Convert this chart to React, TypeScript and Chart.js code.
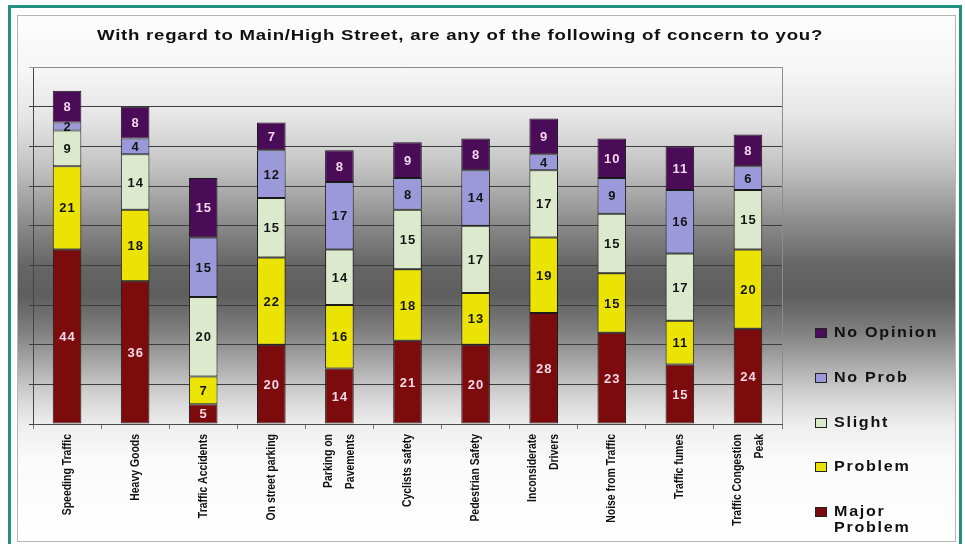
import React, { useEffect, useRef } from 'react';
import { Chart, registerables } from 'chart.js';

Chart.register(...registerables);

const titleText = 'With regard to Main/High Street, are any of the following of concern to you?';

const categories: string[][] = [
  ['Speeding Traffic'],
  ['Heavy Goods'],
  ['Traffic Accidents'],
  ['On street parking'],
  ['Parking on', 'Pavements'],
  ['Cyclists safety'],
  ['Pedestrian Safety'],
  ['Inconsiderate', 'Drivers'],
  ['Noise from Traffic'],
  ['Traffic fumes'],
  ['Traffic Congestion', 'Peak'],
];

const majorProblem = [44, 36, 5, 20, 14, 21, 20, 28, 23, 15, 24];
const problem = [21, 18, 7, 22, 16, 18, 13, 19, 15, 11, 20];
const slight = [9, 14, 20, 15, 14, 15, 17, 17, 15, 17, 15];
const noProb = [2, 4, 15, 12, 17, 8, 14, 4, 9, 16, 6];
const noOpinion = [8, 8, 15, 7, 8, 9, 8, 9, 10, 11, 8];

const seriesNames = ['Major Problem', 'Problem', 'Slight', 'No Prob', 'No Opinion'];
const seriesColors = ['#7c0b0e', '#ebe304', '#dde9cc', '#9b99d9', '#4a0b57'];
const labelColors = ['#f4d8e4', '#151515', '#151515', '#151515', '#f2d6ee'];

const yMax = 90;
const yStep = 10;

const FONT = '"Liberation Sans", Arial, sans-serif';

const bgPlugin = {
  id: 'bgPlugin',
  beforeDraw(chart: any) {
    const { ctx, width, height } = chart;
    ctx.save();
    ctx.fillStyle = '#ffffff';
    ctx.fillRect(0, 0, width, height);
    const g = ctx.createLinearGradient(0, 0, 0, height);
    const stops: [number, string][] = [
      [0, '#ffffff'],
      [70, '#f6f6f6'],
      [120, '#e4e4e4'],
      [170, '#c0c0c0'],
      [220, '#8e8e8e'],
      [265, '#666666'],
      [295, '#5e5e5e'],
      [330, '#7e7e7e'],
      [365, '#ababab'],
      [395, '#d2d2d2'],
      [425, '#eeeeee'],
      [460, '#fafafa'],
      [544, '#ffffff'],
    ];
    stops.forEach(([p, c]) => g.addColorStop(p / height, c));
    ctx.fillStyle = g;
    ctx.fillRect(17, 15, 939, 527);
    ctx.strokeStyle = '#b5b5b5';
    ctx.lineWidth = 1;
    ctx.strokeRect(17.5, 15.5, 938, 526);
    ctx.strokeStyle = '#23907e';
    ctx.lineWidth = 3;
    ctx.beginPath();
    ctx.moveTo(9.5, height);
    ctx.lineTo(9.5, 6.5);
    ctx.lineTo(960.5, 6.5);
    ctx.lineTo(960.5, height);
    ctx.stroke();
    ctx.restore();
  },
  beforeDatasetsDraw(chart: any) {
    const { ctx, chartArea } = chart;
    ctx.save();
    ctx.strokeStyle = '#8c8c8c';
    ctx.lineWidth = 1;
    ctx.beginPath();
    ctx.moveTo(chartArea.left, chartArea.top + 0.5);
    ctx.lineTo(chartArea.right + 0.5, chartArea.top + 0.5);
    ctx.lineTo(chartArea.right + 0.5, chartArea.bottom);
    ctx.stroke();
    ctx.restore();
  },
};

const valuePlugin = {
  id: 'valuePlugin',
  afterDatasetsDraw(chart: any) {
    const { ctx } = chart;
    ctx.save();
    ctx.font = `bold 13px ${FONT}`;
    (ctx as any).letterSpacing = '1px';
    ctx.textAlign = 'center';
    ctx.textBaseline = 'middle';
    chart.data.datasets.forEach((ds: any, i: number) => {
      const meta = chart.getDatasetMeta(i);
      meta.data.forEach((bar: any, j: number) => {
        const v = ds.data[j];
        const { x, y, base } = bar.getProps(['x', 'y', 'base'], true);
        ctx.fillStyle = labelColors[i];
        ctx.fillText(String(v), x + 0.5, (y + base) / 2 + 1);
      });
    });
    ctx.restore();
  },
};

const decorPlugin = {
  id: 'decorPlugin',
  afterDraw(chart: any) {
    const { ctx, chartArea } = chart;
    // title
    ctx.save();
    ctx.font = `bold 15px ${FONT}`;
    (ctx as any).letterSpacing = '0.6px';
    const w = ctx.measureText(titleText).width;
    const sx = 726 / w;
    ctx.translate(460, 36);
    ctx.scale(sx, 1);
    ctx.textAlign = 'center';
    ctx.textBaseline = 'middle';
    ctx.fillStyle = '#111111';
    ctx.fillText(titleText, 0, 0);
    ctx.restore();

    // x labels
    const xs = chart.scales.x;
    ctx.save();
    ctx.font = `bold 12px ${FONT}`;
    ctx.fillStyle = '#111111';
    ctx.textAlign = 'right';
    ctx.textBaseline = 'middle';
    categories.forEach((lines, i) => {
      const x = xs.getPixelForValue(i);
      const n = lines.length;
      lines.forEach((line, k) => {
        const off = (k - (n - 1) / 2) * 22;
        ctx.save();
        ctx.translate(x + off, chartArea.bottom + 10);
        ctx.rotate(-Math.PI / 2);
        ctx.scale(0.87, 1.08);
        ctx.fillText(line, 0, 0);
        ctx.restore();
      });
    });
    ctx.restore();

    // legend
    ctx.save();
    const items = [4, 3, 2, 1, 0];
    const ys = [333, 378, 423, 467, 512];
    ctx.textAlign = 'left';
    ctx.textBaseline = 'middle';
    items.forEach((si, k) => {
      const y = ys[k];
      ctx.fillStyle = seriesColors[si];
      ctx.fillRect(815, y - 5, 12, 10);
      ctx.strokeStyle = '#222222';
      ctx.lineWidth = 1;
      ctx.strokeRect(815.5, y - 4.5, 11, 9);
      ctx.save();
      ctx.font = `bold 14px ${FONT}`;
      (ctx as any).letterSpacing = '1.5px';
      ctx.fillStyle = '#111111';
      ctx.translate(834, y);
      ctx.scale(1.15, 1);
      if (seriesNames[si] === 'Major Problem') {
        ctx.fillText('Major', 0, 0);
        ctx.fillText('Problem', 0, 16);
      } else {
        ctx.fillText(seriesNames[si], 0, 0);
      }
      ctx.restore();
    });
    ctx.restore();
  },
};

export default function App() {
  const ref = useRef<HTMLCanvasElement | null>(null);

  useEffect(() => {
    if (!ref.current) return;
    const seriesData = [majorProblem, problem, slight, noProb, noOpinion];
    const chart = new Chart(ref.current, {
      type: 'bar',
      data: {
        labels: categories,
        datasets: seriesNames.map((name, i) => ({
          label: name,
          data: seriesData[i],
          backgroundColor: seriesColors[i],
          borderColor: '#1a1a1a',
          borderWidth: 1,
          borderSkipped: false,
          barPercentage: 0.42,
          categoryPercentage: 1,
        })),
      },
      options: {
        responsive: false,
        animation: false,
        devicePixelRatio: 1,
        layout: { padding: { top: 67, left: 29, right: 183, bottom: 0 } },
        plugins: {
          legend: { display: false },
          title: { display: false },
          tooltip: { enabled: false },
        },
        scales: {
          x: {
            stacked: true,
            ticks: { display: false },
            grid: {
              drawOnChartArea: false,
              drawTicks: true,
              tickLength: 5,
              color: '#7a7a7a',
            },
            border: { display: true, color: '#4a4a4a' },
            afterFit: (scale: any) => {
              scale.height = 120;
            },
          },
          y: {
            stacked: true,
            min: 0,
            max: yMax,
            ticks: { display: false, stepSize: yStep },
            grid: {
              color: (c: any) => (c.tick && c.tick.value === yMax ? '#9a9a9a' : '#3e3e3e'),
              tickLength: 4,
              drawTicks: true,
            },
            border: { display: true, color: '#444444' },
            afterFit: (scale: any) => {
              scale.width = 4;
            },
          },
        },
      },
      plugins: [bgPlugin, valuePlugin, decorPlugin],
    });
    return () => chart.destroy();
  }, []);

  return (
    <div style={{ position: 'absolute', left: 0, top: 0, width: 965, height: 544 }}>
      <canvas ref={ref} width={965} height={544} />
    </div>
  );
}
